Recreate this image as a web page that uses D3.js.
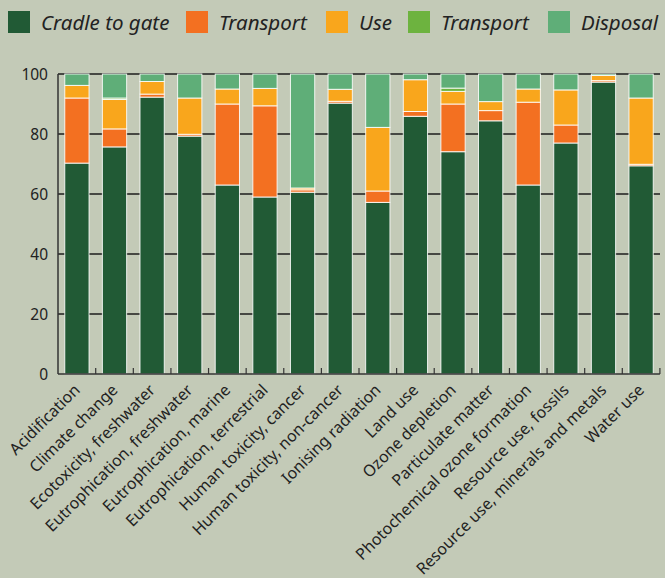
<!DOCTYPE html>
<html>
<head>
<meta charset="utf-8">
<script src="https://cdn.jsdelivr.net/npm/d3@7"></script>
<style>
  body { margin: 0; background: #c3cab7; }
  svg { display: block; font-family: "Noto Sans", sans-serif; }
</style>
</head>
<body>
<div id="chart"></div>
<script>
// categories + stacked shares (%)
var categories = [
  "Acidification", "Climate change", "Ecotoxicity, freshwater",
  "Eutrophication, freshwater", "Eutrophication, marine",
  "Eutrophication, terrestrial", "Human toxicity, cancer",
  "Human toxicity, non-cancer", "Ionising radiation", "Land use",
  "Ozone depletion", "Particulate matter", "Photochemical ozone formation",
  "Resource use, fossils", "Resource use, minerals and metals", "Water use"
];
var cradleToGate = [70.3, 75.7, 92.3, 79.3, 63.0, 59.0, 60.6, 90.3, 57.2, 85.9, 74.1, 84.4, 63.0, 77.0, 97.3, 69.4];
var transport    = [21.7,  6.0,  1.0,  0.6, 27.0, 30.4,  0.8,  0.6,  3.8,  1.6, 15.9,  3.4, 27.6,  6.0,  0.5,  0.5];
var use          = [ 4.2,  9.8,  4.2, 12.1,  5.0,  5.8,  0.6,  4.0, 21.2, 10.6,  4.2,  3.0,  4.4, 11.7,  1.7, 22.1];
var transport2   = [ 0.0,  0.5,  0.0,  0.0,  0.0,  0.0,  0.0,  0.0,  0.0,  0.0,  1.1,  0.0,  0.0,  0.0,  0.0,  0.0];
var disposal     = [ 3.8,  8.0,  2.5,  8.0,  5.0,  4.8, 38.0,  5.1, 17.8,  1.9,  4.7,  9.2,  5.0,  5.3,  0.5,  8.0];

var seriesNames = ["Cradle to gate", "Transport", "Use", "Transport", "Disposal"];
var seriesKeys = ["c2g", "t1", "use", "t2", "disp"];
var colors = ["#215a35", "#f37021", "#f9a61c", "#6db33f", "#5fae78"];
var yTicks = [0, 20, 40, 60, 80, 100];

var width = 665, height = 578;
var margin = { top: 74, right: 5, bottom: 204, left: 58 };
var legendX = [8, 186, 326, 408, 548];  // square positions in the legend row

var data = categories.map(function (c, i) {
  return { cat: c, c2g: cradleToGate[i], t1: transport[i], use: use[i], t2: transport2[i], disp: disposal[i] };
});

var svg = d3.select("#chart").append("svg")
  .attr("width", width)
  .attr("height", height);

var x = d3.scaleBand()
  .domain(categories)
  .range([margin.left, width - margin.right])
  .paddingInner(0.355)
  .paddingOuter(0.18);

var y = d3.scaleLinear()
  .domain([0, 100])
  .range([height - margin.bottom, margin.top]);

// gridlines
svg.append("g")
  .selectAll("line")
  .data(yTicks.filter(function (d) { return d > 0; }))
  .enter().append("line")
  .attr("x1", margin.left)
  .attr("x2", width - margin.right)
  .attr("y1", function (d) { return y(d); })
  .attr("y2", function (d) { return y(d); })
  .attr("stroke", "#1c1c1c")
  .attr("stroke-width", 1.3);

// y labels
svg.append("g")
  .selectAll("text")
  .data(yTicks)
  .enter().append("text")
  .attr("x", margin.left - 10)
  .attr("y", function (d) { return y(d); })
  .attr("dy", "0.36em")
  .attr("text-anchor", "end")
  .attr("font-size", 15.5)
  .attr("fill", "#222")
  .text(function (d) { return d; });

// stacked bars
var stack = d3.stack().keys(seriesKeys);
var layers = stack(data);

svg.append("g")
  .selectAll("g")
  .data(layers)
  .enter().append("g")
  .attr("fill", function (d, i) { return colors[i]; })
  .selectAll("rect")
  .data(function (d) { return d.filter(function (s) { return s[1] - s[0] > 0; }); })
  .enter().append("rect")
  .attr("x", function (d) { return x(d.data.cat); })
  .attr("width", x.bandwidth())
  .attr("y", function (d) { return y(d[1]); })
  .attr("height", function (d) { return y(d[0]) - y(d[1]); })
  .attr("stroke", "#fff")
  .attr("stroke-opacity", 0.85)
  .attr("stroke-width", 1);

// axes lines
var gap = x.step() - x.bandwidth();
var bottomY = y(0);
svg.append("line")
  .attr("x1", margin.left).attr("x2", margin.left)
  .attr("y1", y(100)).attr("y2", bottomY)
  .attr("stroke", "#333").attr("stroke-width", 1.5);
svg.append("line")
  .attr("x1", margin.left).attr("x2", x(categories[categories.length - 1]) + x.bandwidth() + gap / 2)
  .attr("y1", bottomY).attr("y2", bottomY)
  .attr("stroke", "#333").attr("stroke-width", 1.5);

// small inward ticks between bars
svg.append("g")
  .selectAll("line")
  .data(categories)
  .enter().append("line")
  .attr("x1", function (d) { return x(d) + x.bandwidth() + gap / 2; })
  .attr("x2", function (d) { return x(d) + x.bandwidth() + gap / 2; })
  .attr("y1", bottomY)
  .attr("y2", bottomY - 6)
  .attr("stroke", "#333")
  .attr("stroke-width", 1.2);

// x labels
svg.append("g")
  .selectAll("text")
  .data(categories)
  .enter().append("text")
  .attr("transform", function (d) {
    return "translate(" + (x(d) + x.bandwidth() / 2 + 4) + "," + (bottomY + 17) + ") rotate(-45)";
  })
  .attr("text-anchor", "end")
  .attr("font-size", 16)
  .attr("fill", "#222")
  .text(function (d) { return d; });

// legend
var legend = svg.append("g");
seriesNames.forEach(function (name, i) {
  legend.append("rect")
    .attr("x", legendX[i]).attr("y", 11)
    .attr("width", 22).attr("height", 22)
    .attr("fill", colors[i]);
  legend.append("text")
    .attr("x", legendX[i] + 33).attr("y", 30)
    .attr("font-size", 20.5)
    .attr("font-style", "italic")
    .attr("fill", "#222")
    .text(name);
});
</script>
</body>
</html>
